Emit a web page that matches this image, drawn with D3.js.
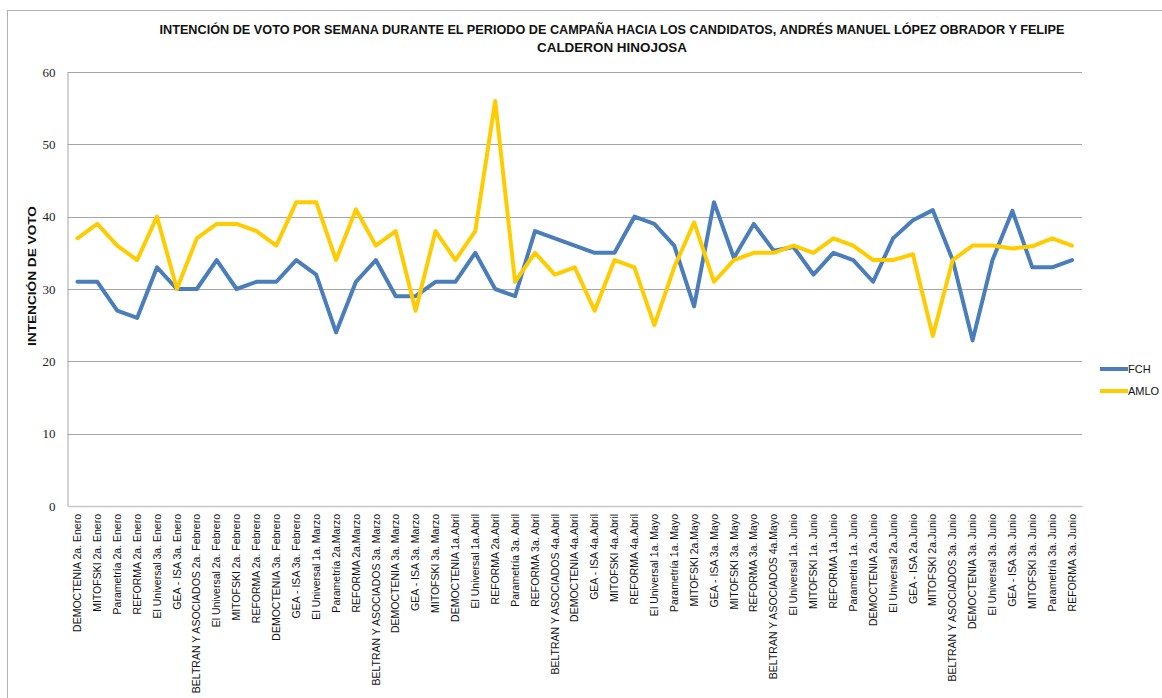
<!DOCTYPE html>
<html><head><meta charset="utf-8">
<script src="https://cdn.jsdelivr.net/npm/d3@7"></script>
<style>body{margin:0;background:#fff}svg{display:block}</style>
</head><body><svg id="c" width="1162" height="698"></svg>
<script>
const categories = [
"DEMOCTENIA 2a. Enero","MITOFSKI 2a. Enero","Parametría 2a. Enero","REFORMA 2a. Enero","El Universal 3a. Enero","GEA - ISA 3a. Enero",
"BELTRAN Y ASOCIADOS 2a. Febrero","El Universal 2a. Febrero","MITOFSKI 2a. Febrero","REFORMA 2a. Febrero","DEMOCTENIA 3a. Febrero","GEA - ISA 3a. Febrero",
"El Universal 1a. Marzo","Parametría 2a.Marzo","REFORMA 2a.Marzo","BELTRAN Y ASOCIADOS 3a. Marzo","DEMOCTENIA 3a. Marzo","GEA - ISA 3a. Marzo","MITOFSKI 3a. Marzo",
"DEMOCTENIA 1a.Abril","El Universal 1a.Abril","REFORMA 2a.Abril","Parametría 3a. Abril","REFORMA 3a. Abril","BELTRAN Y ASOCIADOS 4a.Abril","DEMOCTENIA 4a.Abril","GEA - ISA 4a.Abril","MITOFSKI 4a.Abril","REFORMA 4a.Abril",
"El Universal 1a. Mayo","Parametría 1a. Mayo","MITOFSKI 2a.Mayo","GEA - ISA 3a. Mayo","MITOFSKI 3a. Mayo","REFORMA 3a. Mayo","BELTRAN Y ASOCIADOS 4a.Mayo",
"El Universal 1a. Junio","MITOFSKI 1a. Junio","REFORMA 1a.Junio","Parametría 1a. Junio","DEMOCTENIA 2a.Junio","El Universal 2a.Junio","GEA - ISA 2a.Junio","MITOFSKI 2a.Junio",
"BELTRAN Y ASOCIADOS 3a. Junio","DEMOCTENIA 3a. Junio","El Universal 3a. Junio","GEA - ISA 3a. Junio","MITOFSKI 3a. Junio","Parametría 3a. Junio","REFORMA 3a. Junio"
];
const fch = [31,31,27,26,33,30,30,34,30,31,31,34,32,24,31,34,29,29,31,31,35,30,29,38,37,36,35,35,40,39,36,27.6,42,34.3,39,35.3,35.8,32,35,34,31,37,39.5,40.9,34,22.9,34,40.8,33,33,34];
const amlo = [37,39,36,34,40,30,37,39,39,38,36,42,42,34,41,36,38,27,38,34,38,56,31,35,32,33,27,34,33,25,33,39.2,31,34,35,35,36,35,37,36,34,34,34.8,23.5,34,36,36,35.6,35.9,37,36];
const yTicks = [0,10,20,30,40,50,60];
const seriesNames = ["FCH","AMLO"];
const seriesColors = ["#4a7ebb","#ffcc00"];
const titleLines = ["INTENCIÓN DE VOTO  POR SEMANA DURANTE EL PERIODO DE CAMPAÑA HACIA LOS CANDIDATOS, ANDRÉS MANUEL LÓPEZ OBRADOR Y FELIPE","CALDERON HINOJOSA"];
const yLabel = "INTENCIÓN DE VOTO";

const svg = d3.select("#c");
svg.append("rect").attr("x",7.5).attr("y",10.5).attr("width",1160).attr("height",700)
  .attr("fill","#fff").attr("stroke","#b3b3b3").attr("stroke-width",1);

const L=67.5, R=1082, T=72, B=506;
const x = d3.scaleBand().domain(categories).range([L,R]);
const y = d3.scaleLinear().domain([0,60]).range([B,T]);

svg.append("g").selectAll("line").data(yTicks.filter(d=>d>0)).join("line")
  .attr("x1",L).attr("x2",R).attr("y1",d=>Math.round(y(d))+0.5).attr("y2",d=>Math.round(y(d))+0.5)
  .attr("stroke","#a6a6a6").attr("stroke-width",1);

const ya = svg.append("g").attr("transform",`translate(${L},0)`)
  .call(d3.axisLeft(y).tickValues(yTicks).tickSize(0).tickPadding(12));
ya.select(".domain").attr("stroke","#a6a6a6");
ya.selectAll("text").attr("font-family","'Liberation Serif','DejaVu Serif',serif").attr("font-size",13).attr("fill","#222");

const xa = svg.append("g").attr("transform",`translate(0,${B})`)
  .call(d3.axisBottom(x).tickSize(0).tickPadding(0));
xa.select(".domain").attr("stroke","#c8c8c8").attr("stroke-width",1.5);
xa.selectAll("text")
  .attr("font-family","'Liberation Sans',Arial,sans-serif").attr("font-size",10.5).attr("fill","#111")
  .attr("transform","rotate(-90)").attr("text-anchor","end").attr("dy","0.35em").attr("x",-8).attr("y",0);

const line = d3.line().x((d,i)=>x(categories[i])+x.bandwidth()/2).y(d=>y(d));
[fch,amlo].forEach((s,k)=>{
  svg.append("path").datum(s).attr("d",line).attr("fill","none")
    .attr("stroke",seriesColors[k]).attr("stroke-width",4).attr("stroke-linejoin","round").attr("stroke-linecap","round");
});

const tt = svg.append("g");
titleLines.forEach((t,i)=>{
  const el = tt.append("text").attr("x",612).attr("y",34+i*18).attr("text-anchor","middle")
    .attr("font-family","'Liberation Sans',Arial,sans-serif").attr("font-weight","bold").attr("font-size",12).attr("fill","#111").text(t);
  if(i===0) el.attr("textLength",905).attr("lengthAdjust","spacingAndGlyphs");
  else el.attr("textLength",150).attr("lengthAdjust","spacingAndGlyphs");
});

svg.append("text").attr("transform","translate(36,276) rotate(-90)").attr("text-anchor","middle")
  .attr("font-family","'Liberation Sans',Arial,sans-serif").attr("font-weight","bold").attr("font-size",11).attr("fill","#111")
  .attr("textLength",140).attr("lengthAdjust","spacingAndGlyphs").text(yLabel);

seriesNames.forEach((n,k)=>{
  const yy = 369 + k*22;
  svg.append("line").attr("x1",1100).attr("x2",1128).attr("y1",yy).attr("y2",yy)
    .attr("stroke",seriesColors[k]).attr("stroke-width",4);
  svg.append("text").attr("x",1128).attr("y",yy).attr("dy","0.35em")
    .attr("font-family","'Liberation Sans',Arial,sans-serif").attr("font-size",11).attr("fill","#111").text(n);
});
</script></body></html>
